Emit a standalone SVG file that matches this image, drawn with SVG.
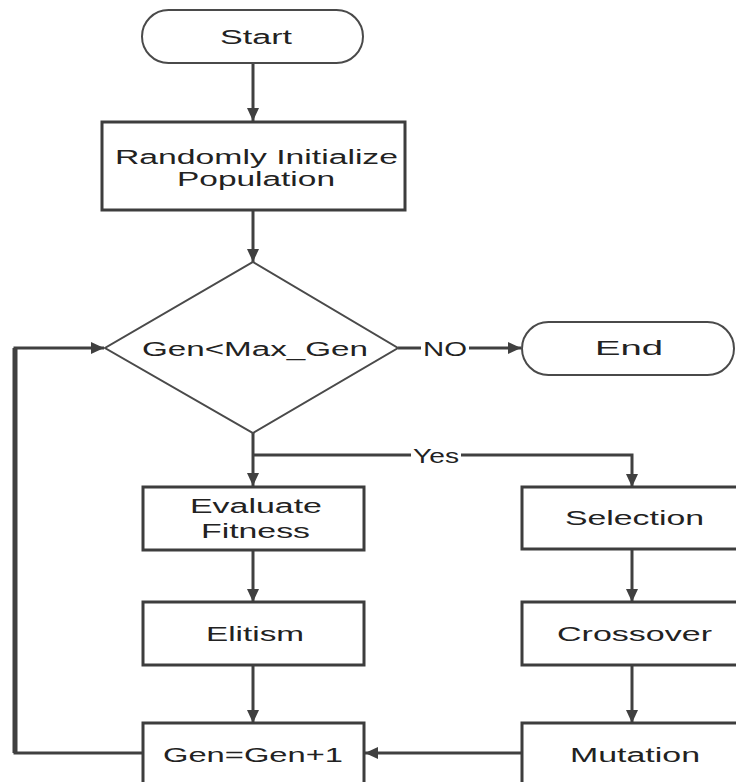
<svg xmlns="http://www.w3.org/2000/svg" width="736" height="782" viewBox="0 0 736 782">
<style>
.box{fill:#fff;stroke:#3d3d3d;stroke-width:3}
.thin{fill:#fff;stroke:#4a4a4a;stroke-width:2}
.ln{fill:none;stroke:#404040;stroke-width:3}
.t{font-family:"Liberation Sans",Arial,sans-serif;font-size:20px;fill:#222;lengthAdjust:spacingAndGlyphs}
</style>
<defs>
<marker id="ah" markerUnits="userSpaceOnUse" markerWidth="14" markerHeight="14" viewBox="0 0 14 14" refX="13" refY="7" orient="auto">
<path d="M0,1 L13,7 L0,13 Z" fill="#404040"/>
</marker>
</defs>
<rect width="736" height="782" fill="#fff"/>
<g id="connectors">
<line class="ln" x1="253" y1="63" x2="253" y2="121" marker-end="url(#ah)"/>
<line class="ln" x1="253" y1="210" x2="253" y2="262" marker-end="url(#ah)"/>
<line class="ln" x1="398" y1="348" x2="421" y2="348"/>
<line class="ln" x1="469" y1="348" x2="521" y2="348" marker-end="url(#ah)"/>
<line class="ln" x1="253" y1="433" x2="253" y2="486" marker-end="url(#ah)"/>
<polyline class="ln" points="253,455 411,455"/>
<polyline class="ln" points="461,455 632,455 632,487" marker-end="url(#ah)"/>
<line class="ln" x1="253" y1="550" x2="253" y2="602" marker-end="url(#ah)"/>
<line class="ln" x1="253" y1="665" x2="253" y2="723" marker-end="url(#ah)"/>
<line class="ln" x1="632" y1="549" x2="632" y2="602" marker-end="url(#ah)"/>
<line class="ln" x1="632" y1="665" x2="632" y2="723" marker-end="url(#ah)"/>
<line class="ln" x1="522" y1="753" x2="365" y2="753" marker-end="url(#ah)"/>
<polyline class="ln" points="143,753 15,753 15,348 104,348" marker-end="url(#ah)"/>
<line x1="15" y1="348" x2="15" y2="753" stroke="#404040" stroke-width="5"/>
<text class="t" x="413" y="463" textLength="46" lengthAdjust="spacingAndGlyphs">Yes</text>
<text class="t" x="423" y="356" textLength="44" lengthAdjust="spacingAndGlyphs">NO</text>
</g>
<g id="start">
<rect class="thin" x="142" y="10" width="221" height="53" rx="26.5"/>
<text class="t" x="220" y="44" textLength="72" lengthAdjust="spacingAndGlyphs">Start</text>
</g>
<g id="init">
<rect class="box" x="102" y="122" width="303" height="88" stroke-width="4"/>
<text class="t" x="115" y="164" textLength="283" lengthAdjust="spacingAndGlyphs">Randomly Initialize</text>
<text class="t" x="177" y="186" textLength="158" lengthAdjust="spacingAndGlyphs">Population</text>
</g>
<g id="decision">
<polygon class="thin" points="253,262 398,348 253,433 105,348"/>
<text class="t" x="142" y="356" textLength="226" lengthAdjust="spacingAndGlyphs">Gen&lt;Max_Gen</text>
</g>
<g id="end">
<rect class="thin" x="522" y="322" width="212" height="53" rx="26.5"/>
<text class="t" x="595" y="355" textLength="68" lengthAdjust="spacingAndGlyphs">End</text>
</g>
<g id="evaluate">
<rect class="box" x="143" y="487" width="221" height="63"/>
<text class="t" x="190" y="513" textLength="132" lengthAdjust="spacingAndGlyphs">Evaluate</text>
<text class="t" x="201" y="538" textLength="109" lengthAdjust="spacingAndGlyphs">Fitness</text>
</g>
<g id="selection">
<rect class="box" x="522" y="487" width="221" height="62"/>
<text class="t" x="565" y="525" textLength="139" lengthAdjust="spacingAndGlyphs">Selection</text>
</g>
<g id="elitism">
<rect class="box" x="143" y="602" width="221" height="63"/>
<text class="t" x="206" y="641" textLength="98" lengthAdjust="spacingAndGlyphs">Elitism</text>
</g>
<g id="crossover">
<rect class="box" x="522" y="602" width="221" height="63"/>
<text class="t" x="557" y="641" textLength="155" lengthAdjust="spacingAndGlyphs">Crossover</text>
</g>
<g id="gen">
<rect class="box" x="143" y="723" width="221" height="63"/>
<text class="t" x="163" y="762" textLength="180" lengthAdjust="spacingAndGlyphs">Gen=Gen+1</text>
</g>
<g id="mutation">
<rect class="box" x="522" y="723" width="221" height="63"/>
<text class="t" x="570" y="762" textLength="130" lengthAdjust="spacingAndGlyphs">Mutation</text>
</g>
</svg>
